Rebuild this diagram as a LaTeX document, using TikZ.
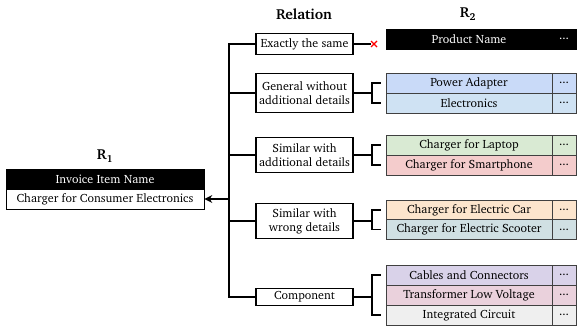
\documentclass[tikz,border=0pt]{standalone}
\usepackage[T1]{fontenc}
\usepackage{charter}
\usetikzlibrary{arrows.meta}
\definecolor{cPA}{HTML}{C9DAF8}
\definecolor{cEL}{HTML}{CFE2F3}
\definecolor{cLP}{HTML}{D9EAD3}
\definecolor{cSP}{HTML}{F4CCCC}
\definecolor{cEC}{HTML}{FCE5CD}
\definecolor{cES}{HTML}{D0E0E3}
\definecolor{cCC}{HTML}{D9D2E9}
\definecolor{cTL}{HTML}{EAD1DC}
\definecolor{cIC}{HTML}{EFEFEF}
\tikzset{
  every node/.style={font=\fontsize{12}{14.3}\selectfont},
  hdr/.style={draw=black, fill=black, text=white, minimum height=20pt, inner sep=0pt},
  cell/.style={draw=black!75, line width=0.7pt, minimum height=20pt, inner sep=0pt},
  relbox/.style={draw=black, line width=1.1pt, fill=white, minimum width=97pt, align=center, inner sep=1pt},
  conn/.style={line width=1.3pt, black},
  ttl/.style={font=\fontsize{14.5}{16}\selectfont\bfseries}
}
\newcommand{\tabrow}[4]{%
  \node[cell, fill=#3, minimum width=166pt] (#1) at (469,#2) {#4};
  \node[cell, fill=#3, minimum width=24pt] (#1d) at (564,#2) {...};
}
\begin{document}
\begin{tikzpicture}[x=1pt,y=-1pt]
\useasboundingbox (0,0) rectangle (577,328);
% R1
\node[ttl] (r1lab) at (105,156) {R\textsubscript{1}};
\node[hdr, minimum width=198pt] (r1h) at (105,179) {Invoice Item Name};
\node[cell, draw=black, minimum width=198pt, fill=white] (r1b) at (105,199) {Charger for Consumer Electronics};
% titles
\node[ttl] (reltitle) at (304,14) {Relation};
\node[ttl] (r2lab) at (468,14) {R\textsubscript{2}};
% relation boxes
\node[relbox, minimum height=21pt] (e1) at (304.5,44) {Exactly the same};
\node[relbox, minimum height=39pt] (e2) at (304.5,93) {General without\\additional details};
\node[relbox, minimum height=35pt] (e3) at (304.5,155) {Similar with\\additional details};
\node[relbox, minimum height=35pt] (e4) at (304.5,221) {Similar with\\wrong details};
\node[relbox, minimum height=17pt] (e5) at (304.5,297) {Component};
% R2 tables
\node[hdr, minimum width=166pt] (pn) at (469,39) {Product Name};
\node[hdr, minimum width=24pt] (pnd) at (564,39) {...};
\tabrow{pa}{83}{cPA}{Power Adapter}
\tabrow{el}{103}{cEL}{Electronics}
\tabrow{lp}{145}{cLP}{Charger for Laptop}
\tabrow{sp}{165}{cSP}{Charger for Smartphone}
\tabrow{ec}{210}{cEC}{Charger for Electric Car}
\tabrow{es}{229.5}{cES}{Charger for Electric Scooter}
\tabrow{cc}{275}{cCC}{Cables and Connectors}
\tabrow{tl}{295}{cTL}{Transformer Low Voltage}
\tabrow{ic}{315}{cIC}{Integrated Circuit}
% trunk
\coordinate (t) at (229,0);
\draw[conn] (e1.west) -| (t |- e5.west) -- (e5.west);
\draw[conn] (e2.west) -- (e2.west -| t);
\draw[conn] (e3.west) -- (e3.west -| t);
\draw[conn] (e4.west) -- (e4.west -| t);
\draw[conn, -{Stealth[length=8pt,width=8pt]}] (r1b.east -| t) -- (r1b.east);
% exactly the same -> cross
\coordinate (x1) at (374,44);
\draw[conn] (e1.east) -- ([xshift=-3pt]x1);
\draw[red, line width=1.3pt] ([shift={(-3pt,-3pt)}]x1) -- ([shift={(3pt,3pt)}]x1)
  ([shift={(-3pt,3pt)}]x1) -- ([shift={(3pt,-3pt)}]x1);
% brackets
\coordinate (bx) at (372,0);
\draw[conn] (e2.east) -- (e2.east -| bx);
\draw[conn] ([xshift=-5pt]pa.west) -| (bx |- el.west) -- ([xshift=-5pt]el.west);
\draw[conn] (e3.east) -- (e3.east -| bx);
\draw[conn] ([xshift=-5pt]lp.west) -| (bx |- sp.west) -- ([xshift=-5pt]sp.west);
\draw[conn] (e4.east) -- (e4.east -| bx);
\draw[conn] ([xshift=-5pt]ec.west) -| (bx |- es.west) -- ([xshift=-5pt]es.west);
\draw[conn] (e5.east) -- (e5.east -| bx);
\draw[conn] ([xshift=-5pt]cc.west) -| (bx |- ic.west) -- ([xshift=-5pt]ic.west);
\end{tikzpicture}
\end{document}
